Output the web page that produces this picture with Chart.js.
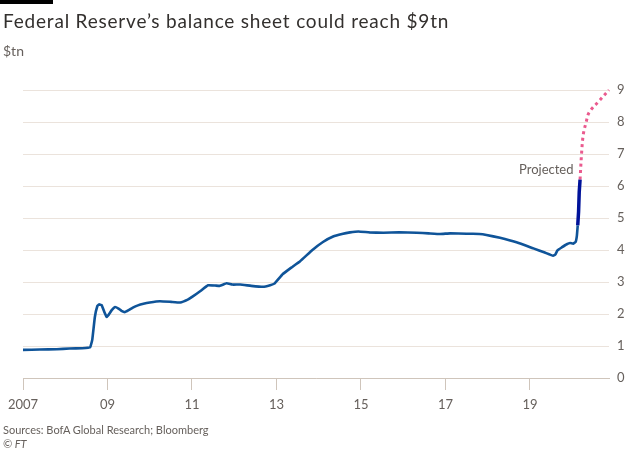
<!DOCTYPE html>
<html>
<head>
<meta charset="utf-8">
<script src="https://cdn.jsdelivr.net/npm/chart.js@4.4.1/dist/chart.umd.min.js"></script>
<style>
  body { margin: 0; background: #fff; font-family: Lato, "Noto Sans", sans-serif; }
  #wrap { position: relative; width: 630px; height: 450px; overflow: hidden; }
  #bar { position: absolute; left: 0; top: 0; width: 53px; height: 4px; background: #000; }
  #title { position: absolute; left: 3px; top: 9px; font-size: 19px; line-height: 24px; letter-spacing: 0.8px; color: #33302e; white-space: nowrap; }
  #unit { position: absolute; left: 3px; top: 42px; font-size: 14px; line-height: 18px; color: #66605c; }
  #source { position: absolute; left: 3px; top: 423px; font-size: 11px; line-height: 14px; color: #66605c; }
  #copy { position: absolute; left: 3px; top: 437px; font-size: 11px; line-height: 14px; color: #66605c; font-style: italic; }
  canvas { position: absolute; left: 0; top: 0; }
</style>
</head>
<body>
<div id="wrap">
  <canvas id="chart" width="630" height="450"></canvas>
  <div id="bar"></div>
  <div id="title">Federal Reserve’s balance sheet could reach $9tn</div>
  <div id="unit">$tn</div>
  <div id="source">Sources: BofA Global Research; Bloomberg</div>
  <div id="copy">© FT</div>
</div>
<script>
// Balance sheet, $tn (decimal years)
const histYears = [2007.00, 2007.40, 2007.80, 2008.10, 2008.40, 2008.59, 2008.64, 2008.70, 2008.76, 2008.80,
  2008.86, 2008.93, 2008.98, 2009.03, 2009.10, 2009.18, 2009.26, 2009.33, 2009.41, 2009.50,
  2009.60, 2009.72, 2009.85, 2010.00, 2010.24, 2010.50, 2010.72, 2010.90, 2011.02, 2011.20,
  2011.38, 2011.55, 2011.66, 2011.82, 2011.95, 2012.14, 2012.40, 2012.68, 2012.85, 2012.95,
  2013.15, 2013.35, 2013.56, 2013.85, 2014.10, 2014.34, 2014.55, 2014.74, 2014.94, 2015.20,
  2015.53, 2015.90, 2016.32, 2016.60, 2016.87, 2017.11, 2017.50, 2017.80, 2017.97, 2018.29,
  2018.68, 2019.08, 2019.35, 2019.55, 2019.60, 2019.65, 2019.75, 2019.87, 2019.95, 2020.02,
  2020.08, 2020.11, 2020.13];
const histValues = [0.88, 0.89, 0.90, 0.92, 0.93, 0.96, 1.20, 1.90, 2.25, 2.30,
  2.28, 2.05, 1.91, 1.98, 2.12, 2.22, 2.17, 2.10, 2.06, 2.12,
  2.20, 2.27, 2.32, 2.36, 2.40, 2.38, 2.36, 2.45, 2.55, 2.72,
  2.90, 2.89, 2.88, 2.96, 2.92, 2.92, 2.88, 2.85, 2.90, 2.95,
  3.25, 3.45, 3.65, 4.00, 4.25, 4.42, 4.50, 4.55, 4.58, 4.55,
  4.54, 4.55, 4.54, 4.52, 4.50, 4.52, 4.51, 4.50, 4.47, 4.38,
  4.24, 4.05, 3.92, 3.82, 3.86, 3.99, 4.08, 4.18, 4.22, 4.20,
  4.25, 4.45, 4.77];

// latest weeks (darker segment)
const recentYears = [2020.13, 2020.15, 2020.165, 2020.185];
const recentValues = [4.77, 5.20, 5.80, 6.20];

// projection
const projYears = [2020.185, 2020.22, 2020.26, 2020.33, 2020.40, 2020.63, 2020.87];
const projValues = [6.20, 7.00, 7.60, 8.00, 8.30, 8.65, 9.00];

const tickYears = [2007, 2009, 2011, 2013, 2015, 2017, 2019];
const tickLabels = ['2007', '09', '11', '13', '15', '17', '19'];

function toPoints(xs, ys) {
    return xs.map((x, i) => ({ x: x, y: ys[i] }));
}

// "Projected" label next to the start of the projection
const labelPlugin = {
    id: 'projLabel',
    afterDatasetsDraw(chart) {
        const ctx = chart.ctx;
        const x = chart.scales.x.getPixelForValue(2020.03);
        const y = chart.scales.y.getPixelForValue(6.5);
        ctx.save();
        ctx.font = '13px Lato, "Noto Sans", sans-serif';
        ctx.fillStyle = '#66605c';
        ctx.textAlign = 'right';
        ctx.textBaseline = 'middle';
        ctx.fillText('Projected', x, y);
        ctx.restore();
    }
};

new Chart(document.getElementById('chart').getContext('2d'), {
    type: 'line',
    data: {
        datasets: [{
            data: toPoints(histYears, histValues),
            borderColor: '#0f5499',
            borderWidth: 2.6,
            pointRadius: 0,
            tension: 0.08
        }, {
            data: toPoints(recentYears, recentValues),
            borderColor: '#00129a',
            borderWidth: 3.5,
            pointRadius: 0
        }, {
            data: toPoints(projYears, projValues),
            borderColor: '#ea5a8e',
            borderWidth: 3,
            borderDash: [3, 3.5],
            pointRadius: 0,
            tension: 0.35,
            clip: false
        }]
    },
    options: {
        responsive: false,
        animation: false,
        layout: { padding: { left: 23, top: 90, right: 0, bottom: 0 } },
        plugins: { legend: { display: false }, tooltip: { enabled: false } },
        scales: {
            x: {
                type: 'linear',
                min: 2007,
                max: 2020.87,
                afterBuildTicks: (scale) => { scale.ticks = tickYears.map(v => ({ value: v })); },
                afterFit: (scale) => { scale.height = 72; },
                grid: { drawOnChartArea: false, drawTicks: true, tickLength: 12, color: '#cfc5bb' },
                border: { display: true, color: '#cfc5bb', width: 1 },
                ticks: {
                    autoSkip: false,
                    maxRotation: 0,
                    padding: 7,
                    color: '#66605c',
                    font: { family: 'Lato, "Noto Sans", sans-serif', size: 13 },
                    callback: (v) => tickLabels[tickYears.indexOf(v)]
                }
            },
            y: {
                position: 'right',
                min: 0,
                max: 9,
                afterFit: (scale) => { scale.width = 21; },
                grid: { color: '#ebe3dc', drawTicks: false },
                border: { display: false },
                ticks: {
                    stepSize: 1,
                    padding: 8,
                    color: '#66605c',
                    font: { family: 'Lato, "Noto Sans", sans-serif', size: 13 }
                }
            }
        }
    },
    plugins: [labelPlugin]
});
</script>
</body>
</html>
